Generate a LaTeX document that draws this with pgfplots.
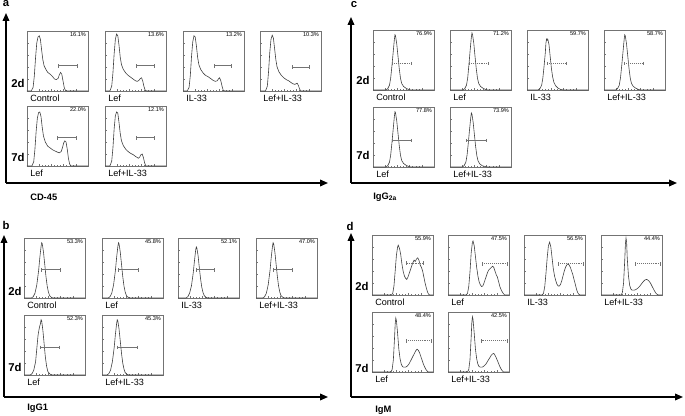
\documentclass[border=0pt]{standalone}
\usepackage{pgfplots}
\pgfplotsset{compat=1.18}
\usepackage{fontspec}
\setmainfont{Liberation Sans}
\usetikzlibrary{arrows.meta}

\def\pxu{0.75pt}
\pgfplotsset{
  hbox/.style={
    anchor=south west, scale only axis, width=45.75pt, height=45pt,
    xmin=0, xmax=100, ymin=0, ymax=100, clip=false,
    axis line style={black!55, line width=0.4pt},
    xtick={20,40,60,80}, ytick={20,40,60,80}, xticklabels={}, yticklabels={},
    minor x tick num=3, tick align=inside, xtick pos=bottom, ytick pos=left,
    major tick length=1.3pt, minor tick length=0.7pt,
    tick style={black!55, line width=0.3pt},
  },
  big/.style={
    anchor=south west, scale only axis, xmin=0, xmax=1, ymin=0, ymax=1,
    axis lines=left, xtick=\empty, ytick=\empty,
    axis line style={line width=1.1pt, -{Triangle[length=6pt,width=5pt]}},
  },
  hline/.style={black!75, line width=0.45pt},
  gate/.style={black!55, line width=0.45pt, mark=|, mark size=1.3pt, mark options={solid}},
}
\tikzset{
  pct/.style={anchor=north east, inner sep=0pt, font=\fontsize{4.2}{5}\selectfont},
  lab/.style={anchor=north west, inner sep=0pt, yshift=-3pt, font=\fontsize{6.8}{8}\selectfont},
}
% #1,#2 lower-left corner in px; #3 curve; #4 gate; #5 percentage; #6 name; #7 gate dash
\newcommand{\hist}[7]{%
\begin{axis}[hbox, at={({#1*\pxu},{-#2*\pxu})}]
\addplot[hline] coordinates {#3};
\addplot[gate, #7] coordinates {#4};
\node[pct] at (rel axis cs:0.97,0.97) {#5};
\node[lab] at (rel axis cs:0.05,0) {#6};
\end{axis}}

\begin{document}
\begin{tikzpicture}
\useasboundingbox (0,0) rectangle ({685*\pxu},{-416*\pxu});

% big arrow axes
\begin{axis}[big, at={({6*\pxu},{-183*\pxu})}, width={322*\pxu}, height={170*\pxu}]
\end{axis}
\begin{axis}[big, at={({4*\pxu},{-397*\pxu})}, width={324*\pxu}, height={162*\pxu}]
\end{axis}
\begin{axis}[big, at={({351*\pxu},{-183*\pxu})}, width={326*\pxu}, height={166*\pxu}]
\end{axis}
\begin{axis}[big, at={({351*\pxu},{-397*\pxu})}, width={332*\pxu}, height={164*\pxu}]
\end{axis}

% panel letters, axis names, row labels
\begin{scope}[every node/.style={font=\fontsize{8.5}{10}\selectfont\bfseries, inner sep=0pt}]
\node at ({6*\pxu},{-4*\pxu}) {a};
\node at ({6*\pxu},{-225*\pxu}) {b};
\node at ({354*\pxu},{-5*\pxu}) {c};
\node at ({350*\pxu},{-226*\pxu}) {d};
\node at ({18*\pxu},{-83*\pxu}) {2d};
\node at ({18*\pxu},{-157*\pxu}) {7d};
\node at ({15*\pxu},{-291*\pxu}) {2d};
\node at ({15*\pxu},{-367*\pxu}) {7d};
\node at ({363*\pxu},{-80*\pxu}) {2d};
\node at ({363*\pxu},{-155*\pxu}) {7d};
\node at ({362*\pxu},{-286*\pxu}) {2d};
\node at ({362*\pxu},{-368*\pxu}) {7d};
\end{scope}
\begin{scope}[every node/.style={font=\fontsize{7}{8}\selectfont\bfseries, inner sep=0pt, anchor=west}]
\node at ({30*\pxu},{-197*\pxu}) {CD-45};
\node at ({27*\pxu},{-408*\pxu}) {IgG1};
\node at ({373*\pxu},{-197*\pxu}) {IgG\textsubscript{2a}};
\node at ({375*\pxu},{-410*\pxu}) {IgM};
\end{scope}

% ---- a: CD-45
\hist{27}{91}{(0,0)(7,0)(10,6)(12,25)(14,55)(16,80)(18,90)(20,92)(22,86)(24,68)(26,52)(28,42)(31,36)(34,31)(38,28)(42,24)(45,20)(48,19)(51,21)(53,27)(55,31)(57,28)(59,17)(61,6)(63,1)(66,0)(100,0)}{(51,42)(82,42)}{16.1\%}{Control}{solid}
\hist{105}{91}{(0,0)(8,0)(11,8)(13,30)(15,62)(17,86)(19,95)(21,92)(23,76)(25,56)(27,44)(30,36)(34,30)(38,26)(42,23)(46,20)(50,17)(53,16)(56,18)(58,21)(60,22)(62,16)(64,7)(66,1)(69,0)(100,0)}{(52,42)(80,42)}{13.6\%}{Lef}{solid}
\hist{183}{91}{(0,0)(7,0)(10,6)(12,26)(14,58)(16,82)(18,92)(20,90)(22,75)(24,56)(26,44)(29,36)(33,30)(37,26)(41,24)(45,21)(49,18)(53,16)(56,17)(58,20)(60,22)(62,17)(64,8)(66,1)(69,0)(100,0)}{(52,42)(79,42)}{13.2\%}{IL-33}{solid}
\hist{260}{91}{(0,0)(9,0)(12,8)(14,32)(16,64)(18,86)(20,93)(22,88)(24,70)(26,52)(28,40)(31,32)(35,26)(39,22)(43,19)(47,17)(51,14)(54,12)(57,11)(59,12)(61,13)(63,9)(65,3)(67,0)(100,0)}{(53,40)(80,40)}{10.3\%}{Lef+IL-33}{solid}
\hist{27}{166}{(0,0)(8,0)(11,7)(13,28)(15,58)(17,80)(19,89)(21,90)(23,82)(25,64)(27,50)(30,40)(34,33)(38,30)(42,27)(46,25)(50,23)(53,22)(56,24)(58,30)(60,38)(62,42)(64,40)(66,28)(68,12)(70,3)(72,0)(100,0)}{(50,47)(80,47)}{22.0\%}{Lef}{solid}
\hist{105}{166}{(0,0)(8,0)(11,8)(13,30)(15,62)(17,84)(19,90)(21,88)(23,72)(25,54)(27,42)(30,34)(34,28)(38,24)(42,21)(46,19)(50,16)(53,14)(55,13)(57,15)(59,19)(61,20)(63,14)(65,5)(67,0)(100,0)}{(52,47)(80,47)}{12.1\%}{Lef+IL-33}{solid}

% ---- b: IgG1
\hist{24}{298}{(0,0)(12,0)(15,2)(18,8)(21,22)(24,46)(26,68)(28,86)(29,92)(30,90)(32,76)(34,56)(36,36)(38,20)(40,10)(42,4)(45,1)(48,0)(100,0)}{(28,47)(60,47)}{53.3\%}{Control}{solid}
\hist{102}{298}{(0,0)(10,0)(13,2)(16,8)(19,22)(22,46)(24,68)(26,86)(27,92)(28,90)(30,76)(32,56)(34,36)(36,20)(38,10)(40,4)(43,1)(46,0)(100,0)}{(27,47)(59,47)}{45.8\%}{Lef}{solid}
\hist{178}{298}{(0,0)(13,0)(16,2)(19,8)(22,20)(25,42)(27,62)(29,80)(30,85)(31,83)(33,70)(35,50)(37,32)(39,18)(41,9)(43,4)(46,1)(49,0)(100,0)}{(30,47)(60,47)}{52.1\%}{IL-33}{solid}
\hist{256}{298}{(0,0)(11,0)(14,2)(17,8)(20,22)(23,46)(25,68)(27,86)(28,92)(29,90)(31,76)(33,56)(35,36)(37,20)(39,10)(41,4)(44,1)(47,0)(100,0)}{(28,47)(60,47)}{47.0\%}{Lef+IL-33}{solid}
\hist{24}{375}{(0,0)(10,0)(13,2)(16,8)(19,22)(21,44)(23,66)(25,78)(26,82)(27,86)(28,92)(29,90)(31,74)(33,52)(35,30)(37,15)(39,6)(42,2)(45,0)(100,0)}{(27,46)(58,46)}{52.3\%}{Lef}{solid}
\hist{102}{375}{(0,0)(8,0)(11,2)(14,8)(17,22)(20,46)(22,68)(24,86)(25,92)(26,90)(28,76)(30,56)(32,36)(34,20)(36,10)(38,4)(41,1)(44,0)(100,0)}{(25,46)(58,46)}{45.3\%}{Lef+IL-33}{solid}

% ---- c: IgG2a
\hist{373}{90}{(0,0)(21,0)(24,2)(27,8)(29,20)(31,40)(33,62)(35,84)(36,92)(37,90)(39,76)(41,56)(43,36)(45,20)(47,11)(50,6)(54,3)(58,1)(62,0)(100,0)}{(31,44)(62,44)}{76.9\%}{Control}{densely dotted}
\hist{450}{90}{(0,0)(21,0)(24,2)(27,8)(29,20)(31,42)(33,66)(35,88)(36,95)(37,92)(39,78)(41,56)(43,36)(45,20)(47,11)(50,6)(54,3)(58,1)(62,0)(100,0)}{(31,44)(62,44)}{71.2\%}{Lef}{densely dotted}
\hist{527}{90}{(0,0)(18,0)(21,2)(24,8)(26,20)(28,40)(30,62)(31,78)(32,85)(33,83)(34,85)(36,76)(38,56)(40,36)(42,22)(44,13)(47,7)(51,3)(55,1)(60,0)(100,0)}{(33,44)(64,44)}{59.7\%}{IL-33}{densely dotted}
\hist{604}{90}{(0,0)(19,0)(22,2)(25,8)(27,20)(29,40)(31,62)(33,84)(34,92)(35,90)(37,76)(39,56)(41,36)(43,20)(45,11)(48,6)(52,3)(56,1)(60,0)(100,0)}{(33,44)(64,44)}{58.7\%}{Lef+IL-33}{densely dotted}
\hist{373}{167}{(0,0)(21,0)(24,2)(27,8)(29,20)(31,40)(33,62)(35,84)(36,92)(37,90)(39,76)(41,56)(43,36)(45,20)(47,11)(50,6)(54,3)(58,1)(62,0)(100,0)}{(31,44)(62,44)}{77.8\%}{Lef}{solid}
\hist{450}{167}{(0,0)(20,0)(23,2)(26,8)(28,20)(30,40)(32,62)(34,82)(35,90)(36,88)(38,74)(40,54)(42,34)(44,19)(46,10)(49,5)(53,2)(57,1)(61,0)(100,0)}{(27,44)(60,44)}{73.9\%}{Lef+IL-33}{solid}

% ---- d: IgM
\hist{372}{295}{(0,0)(32,0)(34,3)(36,15)(38,40)(40,66)(42,80)(43,83)(45,78)(47,68)(49,52)(51,40)(53,32)(55,28)(57,26)(59,30)(61,36)(63,42)(65,48)(67,54)(69,58)(71,56)(73,60)(75,62)(77,58)(79,50)(81,46)(83,40)(85,30)(87,20)(89,12)(91,5)(93,1)(95,0)(100,0)}{(57,53)(84,53)}{55.9\%}{Control}{densely dotted}
\hist{448}{295}{(0,0)(30,0)(32,3)(34,14)(36,38)(38,70)(40,88)(41,90)(43,82)(45,64)(47,46)(49,32)(51,22)(53,17)(55,14)(57,15)(59,20)(61,26)(63,32)(65,38)(67,42)(69,44)(71,46)(73,48)(75,46)(77,40)(79,34)(81,30)(83,22)(85,14)(87,9)(89,5)(91,2)(93,0)(100,0)}{(56,52)(98,52)}{47.5\%}{Lef}{densely dotted}
\hist{524}{295}{(0,0)(30,0)(32,3)(34,14)(36,36)(38,62)(40,82)(42,88)(44,80)(46,62)(48,44)(50,32)(52,24)(54,18)(56,15)(58,15)(60,18)(62,24)(64,32)(66,40)(68,46)(70,50)(72,52)(74,50)(76,46)(78,40)(80,34)(82,26)(84,18)(86,10)(88,4)(90,1)(92,0)(100,0)}{(56,52)(98,52)}{56.5\%}{IL-33}{densely dotted}
\hist{601}{295}{(0,0)(33,0)(35,4)(37,20)(39,60)(40,85)(41,95)(42,88)(43,62)(45,32)(47,16)(49,10)(51,8)(54,8)(57,9)(60,11)(63,14)(66,18)(69,22)(72,25)(75,26)(78,24)(81,20)(84,14)(87,8)(90,3)(92,1)(94,0)(100,0)}{(56,52)(98,52)}{44.4\%}{Lef+IL-33}{densely dotted}
\hist{372}{372}{(0,0)(31,0)(33,4)(35,20)(37,58)(38,80)(39,90)(40,86)(42,64)(44,38)(46,22)(48,13)(50,9)(52,8)(55,8)(58,10)(61,14)(64,20)(67,26)(70,32)(72,36)(74,38)(76,36)(78,32)(80,26)(82,20)(84,14)(86,9)(88,5)(90,2)(92,0)(100,0)}{(56,52)(98,52)}{48.4\%}{Lef}{densely dotted}
\hist{448}{372}{(0,0)(32,0)(34,4)(36,20)(38,58)(39,82)(40,92)(41,88)(43,64)(45,38)(47,22)(49,13)(51,9)(53,8)(56,8)(59,10)(62,13)(65,18)(68,23)(71,28)(73,30)(75,31)(77,28)(79,24)(81,19)(83,14)(85,9)(87,5)(89,2)(91,0)(100,0)}{(55,52)(98,52)}{42.5\%}{Lef+IL-33}{densely dotted}
\end{tikzpicture}
\end{document}
